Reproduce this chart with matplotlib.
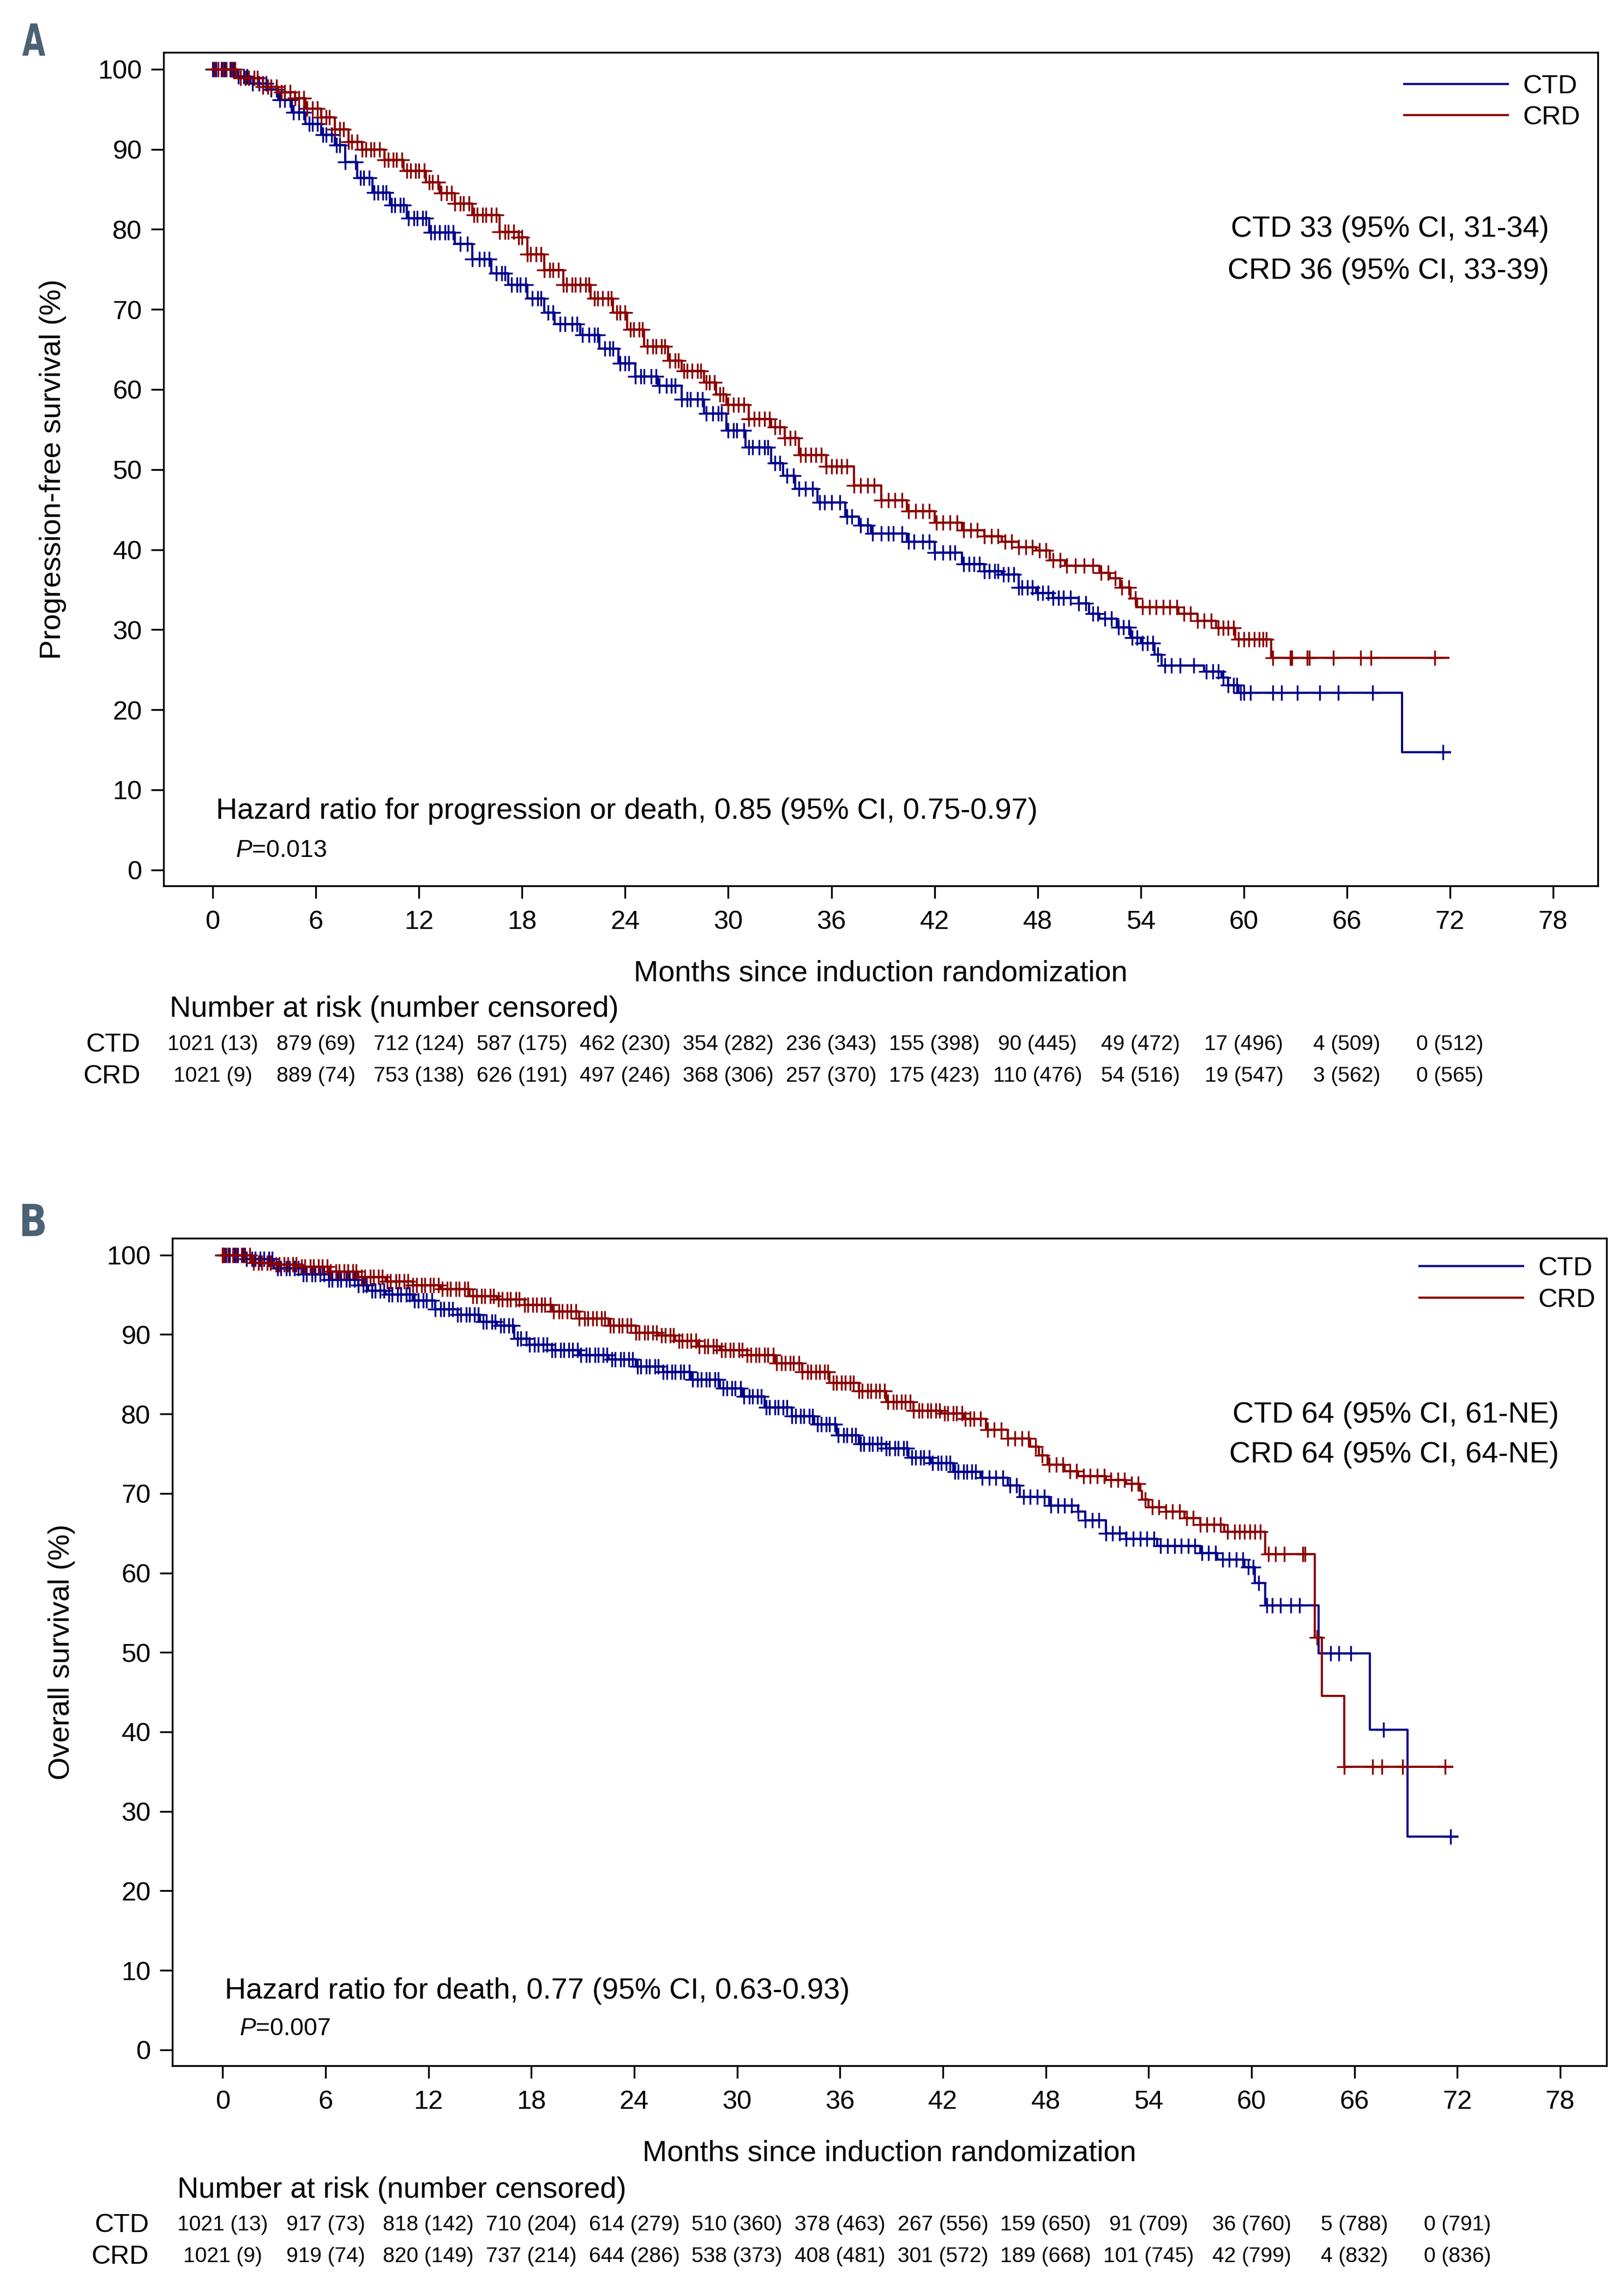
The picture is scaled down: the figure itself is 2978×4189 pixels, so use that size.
import numpy as np
import matplotlib
matplotlib.use("Agg")
import matplotlib.pyplot as plt
from matplotlib.font_manager import FontProperties
from matplotlib.textpath import TextPath
from matplotlib.patches import PathPatch
from matplotlib.transforms import Affine2D, blended_transform_factory

plt.rcParams['font.family'] = ['Liberation Sans', 'DejaVu Sans']
plt.rcParams['mathtext.fontset'] = 'custom'
plt.rcParams['mathtext.rm'] = 'Liberation Sans'
plt.rcParams['mathtext.it'] = 'Liberation Sans:italic'

BLUE = '#00008c'
RED = '#8b0000'
LETTER = '#4b6275'

# ---------------- data ----------------
risk_months = [0, 6, 12, 18, 24, 30, 36, 42, 48, 54, 60, 66, 72]

# Panel A - progression-free survival (step knots)
pfs_ctd_t = [0, 1.4, 2.2, 3.2, 3.8, 4.6, 5.4, 6.3, 7.1, 7.7, 8.4, 9.3, 10.3, 11.3, 12.6, 14.1,
             15.1, 16.2, 17.2, 18.3, 19.3, 19.9, 21.4, 22.5, 23.6, 24.6, 25.9, 27.3, 28.6, 29.9,
             31.0, 32.5, 33.2, 33.9, 35.2, 36.8, 37.6, 38.3, 40.4, 42.0, 43.6, 44.9, 45.9, 46.9,
             47.9, 48.9, 50.4, 51.0, 51.6, 52.6, 53.4, 54.0, 54.8, 55.2, 57.7, 58.7, 59.1, 59.7,
             69.2, 72.0]
pfs_ctd_s = [100, 99.1, 98.2, 97.5, 96.2, 94.6, 93.2, 91.8, 90.5, 88.4, 86.4, 84.6, 83.0, 81.4, 79.6, 78.2,
             76.3, 74.5, 73.1, 71.4, 69.6, 68.2, 66.8, 65.1, 63.3, 61.6, 60.5, 58.8, 57.0, 54.9,
             52.8, 50.8, 49.2, 47.6, 45.9, 44.1, 43.0, 42.0, 41.0, 39.6, 38.2, 37.3, 36.9, 35.3,
             34.6, 34.0, 33.3, 32.0, 31.4, 30.3, 29.0, 28.3, 26.9, 25.5, 24.8, 24.0, 23.1, 22.1,
             14.7, 14.7]
pfs_crd_t = [0, 1.4, 2.9, 3.8, 4.8, 5.4, 6.3, 7.1, 7.9, 8.7, 10.0, 11.1, 12.4, 13.2, 14.1, 15.1,
             16.7, 17.8, 18.3, 19.3, 20.4, 22.0, 23.3, 24.1, 25.1, 26.5, 27.3, 28.6, 29.3, 29.9,
             31.2, 32.5, 33.3, 34.1, 35.7, 37.3, 38.9, 40.4, 42.0, 43.6, 44.9, 45.9, 46.9, 47.9,
             48.7, 49.6, 51.6, 52.2, 52.8, 53.4, 53.8, 56.2, 57.3, 58.4, 59.5, 61.6, 71.9]
pfs_crd_s = [100, 98.9, 97.8, 97.1, 96.4, 95.1, 94.0, 92.5, 90.9, 90.0, 88.7, 87.3, 85.9, 84.5, 83.2, 81.8,
             79.7, 79.0, 76.9, 74.9, 73.1, 71.4, 69.6, 67.5, 65.4, 63.6, 62.3, 60.9, 59.4, 58.1,
             56.3, 55.3, 53.9, 51.8, 50.4, 48.0, 46.2, 44.8, 43.4, 42.4, 41.7, 41.0, 40.3, 39.9,
             38.7, 38.0, 37.1, 36.4, 35.3, 33.9, 32.8, 32.0, 31.1, 30.2, 28.8, 26.5, 26.5]
pfs_ctd_cens = [0.0, 0.2, 0.5, 0.7, 1.0, 1.2, 1.5, 1.8, 2.0, 2.3, 2.7, 2.9, 3.1, 3.4, 3.7, 3.9,
                4.2, 4.5, 4.7, 5.0, 5.3, 5.6, 5.8, 6.1, 6.4, 6.6, 6.9, 7.2, 7.4, 7.7, 8.3, 8.6,
                8.8, 9.1, 9.4, 9.6, 9.9, 10.1, 10.4, 10.6, 10.9, 11.1, 11.4, 11.7, 11.9, 12.2,
                12.4, 12.7, 12.9, 13.2, 13.5, 13.7, 14.0, 14.4, 14.8, 15.1, 15.5, 15.8, 16.1,
                16.5, 16.8, 17.0, 17.4, 17.7, 17.9, 18.2, 18.6, 18.9, 19.1, 19.5, 19.8, 20.2,
                20.5, 20.9, 21.2, 21.5, 21.9, 22.2, 22.4, 22.8, 23.1, 23.3, 23.7, 24.0, 24.2,
                24.6, 24.9, 25.1, 25.5, 25.8, 26.0, 26.4, 26.7, 26.9, 27.3, 27.6, 27.8, 28.2,
                28.5, 28.7, 29.1, 29.4, 29.6, 30.0, 30.3, 30.5, 30.9, 31.2, 31.4, 31.8, 32.1,
                32.3, 32.7, 33.0, 33.4, 33.8, 34.1, 34.5, 34.9, 35.3, 35.6, 36.0, 36.5, 36.9,
                37.2, 37.7, 38.1, 38.4, 38.9, 39.3, 39.6, 40.1, 40.5, 40.8, 41.3, 41.7, 42.0,
                42.5, 42.9, 43.2, 43.7, 44.0, 44.3, 44.6, 44.9, 45.2, 45.5, 45.7, 46.0, 46.3,
                46.6, 46.9, 47.1, 47.4, 47.7, 48.0, 48.3, 48.6, 48.9, 49.2, 49.5, 49.9, 50.4,
                50.8, 51.2, 51.5, 51.9, 52.3, 52.7, 53.0, 53.3, 53.5, 53.8, 54.1, 54.4, 54.7,
                55.0, 55.4, 55.8, 56.3, 57.1, 57.8, 58.2, 58.5, 58.8, 59.1, 59.4, 59.6, 59.8,
                60.0, 60.4, 61.7, 62.2, 63.1, 64.4, 65.5, 67.5, 71.6]
pfs_crd_cens = [0.1, 0.3, 0.6, 0.8, 1.1, 1.3, 1.6, 1.9, 2.1, 2.4, 2.6, 2.9, 3.2, 3.4, 3.7, 4.0,
                4.2, 4.5, 4.8, 5.0, 5.3, 5.5, 5.8, 6.1, 6.3, 6.6, 6.8, 7.1, 7.4, 7.6, 7.9, 8.1,
                8.4, 8.7, 8.9, 9.2, 9.4, 9.7, 10.0, 10.2, 10.5, 10.7, 11.0, 11.3, 11.5, 11.8,
                12.0, 12.3, 12.6, 12.8, 13.1, 13.3, 13.6, 13.9, 14.1, 14.4, 14.6, 14.9, 15.2,
                15.4, 15.7, 15.9, 16.2, 16.5, 16.7, 17.0, 17.2, 17.5, 17.8, 18.0, 18.3, 18.5,
                18.8, 19.1, 19.3, 19.6, 19.8, 20.1, 20.4, 20.6, 20.9, 21.1, 21.4, 21.7, 21.9,
                22.2, 22.4, 22.7, 23.0, 23.2, 23.5, 23.7, 24.0, 24.3, 24.5, 24.8, 25.0, 25.3,
                25.6, 25.8, 26.1, 26.3, 26.6, 26.9, 27.1, 27.4, 27.6, 27.9, 28.2, 28.4, 28.7,
                28.9, 29.2, 29.5, 29.7, 30.0, 30.3, 30.6, 30.9, 31.2, 31.5, 31.8, 32.1, 32.4,
                32.7, 33.0, 33.3, 33.6, 33.9, 34.2, 34.5, 34.8, 35.1, 35.4, 35.7, 36.0, 36.3,
                36.6, 36.9, 37.3, 37.7, 38.1, 38.5, 38.9, 39.3, 39.7, 40.1, 40.5, 40.9, 41.3,
                41.7, 42.1, 42.5, 42.9, 43.3, 43.7, 44.1, 44.5, 44.9, 45.3, 45.7, 46.1, 46.5,
                46.9, 47.3, 47.7, 48.1, 48.5, 48.9, 49.3, 49.7, 50.2, 50.7, 51.2, 51.7, 52.1,
                52.5, 52.9, 53.3, 53.7, 54.1, 54.5, 54.9, 55.3, 55.7, 56.1, 56.5, 56.9, 57.3,
                57.7, 58.1, 58.5, 58.8, 59.1, 59.4, 59.7, 60.0, 60.3, 60.6, 60.9, 61.1, 61.3,
                61.7, 62.7, 62.8, 63.7, 63.8, 65.2, 66.8, 67.4, 71.1]
pfs_ctd_risk = [1021, 879, 712, 587, 462, 354, 236, 155, 90, 49, 17, 4, 0]
pfs_ctd_ncens = [13, 69, 124, 175, 230, 282, 343, 398, 445, 472, 496, 509, 512]
pfs_crd_risk = [1021, 889, 753, 626, 497, 368, 257, 175, 110, 54, 19, 3, 0]
pfs_crd_ncens = [9, 74, 138, 191, 246, 306, 370, 423, 476, 516, 547, 562, 565]

# Panel B - overall survival
os_ctd_t = [0, 1.4, 3.0, 4.6, 6.2, 7.9, 8.5, 9.5, 11.1, 12.4, 13.7, 15.0, 16.0, 17.0, 17.9, 19.2,
            20.8, 22.5, 24.1, 25.7, 27.3, 29.0, 30.3, 31.6, 33.2, 34.5, 35.8, 37.1, 38.7, 40.0,
            41.3, 42.6, 44.2, 45.8, 46.5, 48.2, 49.9, 50.3, 51.5, 52.7, 54.5, 57.0, 58.0, 59.6,
            60.2, 60.8, 63.9, 66.9, 69.1, 72.0]
os_ctd_s = [100, 99.5, 98.3, 97.6, 96.9, 96.2, 95.5, 95.0, 94.3, 93.2, 92.5, 91.6, 91.1, 89.5, 88.7, 88.0,
            87.4, 86.9, 86.0, 85.3, 84.3, 83.2, 82.2, 80.8, 79.7, 78.7, 77.3, 76.2, 75.7, 74.5,
            73.8, 72.7, 72.0, 71.0, 69.6, 68.5, 67.7, 66.6, 65.0, 64.3, 63.4, 62.5, 61.7, 60.7,
            58.7, 55.9, 49.9, 40.3, 26.8, 26.8]
os_crd_t = [0, 1.7, 3.0, 4.6, 6.2, 7.9, 9.5, 11.1, 12.7, 14.4, 16.0, 17.6, 19.2, 20.8, 22.5, 24.1,
            25.4, 26.4, 27.7, 29.0, 30.6, 32.2, 33.8, 35.4, 37.1, 38.7, 40.3, 41.9, 43.2, 44.5,
            45.8, 47.1, 47.6, 48.1, 49.1, 49.9, 51.5, 52.7, 53.5, 53.6, 54.0, 55.0, 56.1, 57.0,
            58.4, 60.8, 63.7, 64.1, 65.4, 71.7]
os_crd_s = [100, 99.0, 98.8, 98.5, 97.9, 97.2, 96.7, 96.2, 95.7, 94.8, 94.4, 93.7, 92.9, 92.0, 91.1, 90.2,
            89.9, 89.2, 88.5, 88.0, 87.4, 86.4, 85.3, 83.9, 82.9, 81.5, 80.4, 80.1, 79.4, 78.0,
            76.9, 75.9, 74.8, 73.6, 72.8, 72.2, 71.7, 71.2, 70.3, 69.2, 68.3, 67.7, 66.9, 66.1,
            65.2, 62.4, 51.9, 44.5, 35.6, 35.6]
os_ctd_cens = [0.0, 0.2, 0.4, 0.7, 0.9, 1.2, 1.4, 1.7, 1.9, 2.2, 2.4, 2.7, 2.9, 3.2, 3.4, 3.7,
               3.9, 4.2, 4.4, 4.7, 4.9, 5.2, 5.4, 5.7, 5.9, 6.2, 6.4, 6.7, 6.9, 7.2, 7.4, 7.7,
               7.9, 8.2, 8.4, 8.7, 8.9, 9.2, 9.4, 9.7, 9.9, 10.2, 10.4, 10.7, 10.9, 11.2, 11.4,
               11.7, 11.9, 12.2, 12.4, 12.7, 12.9, 13.2, 13.4, 13.7, 13.9, 14.2, 14.4, 14.7,
               14.9, 15.2, 15.4, 15.7, 15.9, 16.2, 16.4, 16.7, 16.9, 17.2, 17.4, 17.7, 17.9,
               18.2, 18.4, 18.7, 18.9, 19.2, 19.4, 19.7, 19.9, 20.2, 20.4, 20.7, 20.9, 21.2,
               21.4, 21.7, 21.9, 22.2, 22.4, 22.7, 22.9, 23.2, 23.4, 23.7, 23.9, 24.2, 24.4,
               24.7, 24.9, 25.2, 25.4, 25.7, 25.9, 26.2, 26.4, 26.7, 26.9, 27.2, 27.4, 27.7,
               27.9, 28.2, 28.4, 28.7, 28.9, 29.2, 29.4, 29.7, 29.9, 30.2, 30.4, 30.7, 30.9,
               31.2, 31.4, 31.7, 31.9, 32.2, 32.4, 32.7, 32.9, 33.2, 33.4, 33.7, 33.9, 34.2,
               34.4, 34.7, 34.9, 35.2, 35.4, 35.7, 35.9, 36.2, 36.4, 36.7, 36.9, 37.2, 37.4,
               37.7, 37.9, 38.2, 38.4, 38.7, 38.9, 39.2, 39.4, 39.7, 39.9, 40.2, 40.4, 40.7,
               40.9, 41.2, 41.4, 41.7, 41.9, 42.2, 42.4, 42.7, 42.9, 43.2, 43.4, 43.7, 43.9,
               44.3, 44.7, 45.1, 45.5, 45.9, 46.3, 46.7, 47.1, 47.5, 47.9, 48.3, 48.7, 49.1,
               49.5, 49.9, 50.3, 50.7, 51.1, 51.5, 51.9, 52.3, 52.7, 53.1, 53.5, 53.9, 54.3,
               54.7, 55.1, 55.5, 55.9, 56.3, 56.7, 57.1, 57.5, 57.9, 58.3, 58.7, 59.1, 59.5,
               59.8, 60.1, 60.4, 60.9, 61.2, 61.7, 62.3, 62.8, 64.6, 65.1, 65.8, 67.7, 71.6]
os_crd_cens = [0.0, 0.1, 0.3, 0.6, 0.8, 1.1, 1.3, 1.6, 1.8, 2.1, 2.3, 2.6, 2.8, 3.1, 3.3, 3.6,
               3.8, 4.1, 4.3, 4.6, 4.8, 5.1, 5.3, 5.6, 5.8, 6.1, 6.3, 6.6, 6.8, 7.1, 7.3, 7.6,
               7.8, 8.1, 8.3, 8.6, 8.8, 9.1, 9.3, 9.6, 9.8, 10.1, 10.3, 10.6, 10.8, 11.1, 11.3,
               11.6, 11.8, 12.1, 12.3, 12.6, 12.8, 13.1, 13.3, 13.6, 13.8, 14.1, 14.3, 14.6,
               14.8, 15.1, 15.3, 15.6, 15.8, 16.1, 16.3, 16.6, 16.8, 17.1, 17.3, 17.6, 17.8,
               18.1, 18.3, 18.6, 18.8, 19.1, 19.3, 19.6, 19.8, 20.1, 20.3, 20.6, 20.8, 21.1,
               21.3, 21.6, 21.8, 22.1, 22.3, 22.6, 22.8, 23.1, 23.3, 23.6, 23.8, 24.1, 24.3,
               24.6, 24.8, 25.1, 25.3, 25.6, 25.8, 26.1, 26.3, 26.6, 26.8, 27.1, 27.3, 27.6,
               27.8, 28.1, 28.3, 28.6, 28.8, 29.1, 29.3, 29.6, 29.8, 30.1, 30.3, 30.6, 30.8,
               31.1, 31.3, 31.6, 31.8, 32.1, 32.3, 32.6, 32.8, 33.1, 33.3, 33.6, 33.8, 34.1,
               34.3, 34.6, 34.8, 35.1, 35.3, 35.6, 35.8, 36.1, 36.3, 36.6, 36.8, 37.1, 37.3,
               37.6, 37.8, 38.1, 38.3, 38.6, 38.8, 39.1, 39.3, 39.6, 39.8, 40.1, 40.3, 40.6,
               40.8, 41.1, 41.3, 41.6, 41.8, 42.1, 42.3, 42.6, 42.8, 43.1, 43.3, 43.6, 43.8,
               44.2, 44.6, 45.0, 45.4, 45.8, 46.2, 46.6, 47.0, 47.4, 47.8, 48.2, 48.6, 49.0,
               49.4, 49.8, 50.2, 50.6, 51.0, 51.4, 51.8, 52.2, 52.6, 53.0, 53.4, 53.8, 54.2,
               54.6, 55.0, 55.4, 55.8, 56.2, 56.6, 57.0, 57.4, 57.8, 58.2, 58.6, 59.0, 59.3,
               59.6, 59.9, 60.2, 60.5, 61.0, 61.4, 61.9, 63.0, 63.1, 63.8, 65.4, 67.05, 67.6,
               68.8, 71.3]
os_ctd_risk = [1021, 917, 818, 710, 614, 510, 378, 267, 159, 91, 36, 5, 0]
os_ctd_ncens = [13, 73, 142, 204, 279, 360, 463, 556, 650, 709, 760, 788, 791]
os_crd_risk = [1021, 919, 820, 737, 644, 538, 408, 301, 189, 101, 42, 4, 0]
os_crd_ncens = [9, 74, 149, 214, 286, 373, 481, 572, 668, 745, 799, 832, 836]

# ---------------- figure ----------------
W, H = 2978, 4189
fig = plt.figure(figsize=(W / 100, H / 100), dpi=100)
fig.patch.set_facecolor('white')


def px_box(left, top, right, bottom):
    return [left / W, 1 - bottom / H, (right - left) / W, (bottom - top) / H]


def censor_y(t, s, c):
    idx = np.searchsorted(t, c, side='right') - 1
    return np.asarray(s)[idx]


def panel_letter(ch, left, top, width, height):
    # condensed bold letter, drawn in pixel coordinates
    tp = TextPath((0, 0), ch, size=100, prop=FontProperties(family='DejaVu Sans', weight='bold'))
    bb = tp.get_extents()
    tr = (Affine2D().translate(-bb.x0, -bb.y0)
          .scale(width / bb.width, height / bb.height)
          .translate(left, H - top - height))
    fig.add_artist(PathPatch(tp, transform=tr, facecolor=LETTER, edgecolor='none'))


def draw_panel(ax, ctd, crd, xlim, ylabel, hr, ptxt, medians, risk, rows_y, lab_x, num_x,
               leg_anchor, med_x, med_y, hr_xy, p_xy, xlab_y):
    ax.set_xlim(*xlim)
    ax.set_ylim(-2.0, 102.1)
    lines = []
    for (t, s, cens), col, lab in zip([ctd, crd], [BLUE, RED], ['CTD', 'CRD']):
        ln, = ax.step(t, s, where='post', color=col, lw=2.8, label=lab)
        lines.append(ln)
        ax.plot(cens, censor_y(np.array(t), s, np.array(cens)), ls='none', marker='+',
                ms=20, mew=2.4, color=col)

    ax.set_xticks(risk_months + [78])
    ax.set_yticks(range(0, 101, 10))
    ax.tick_params(direction='out', length=16.5, width=2.4, labelsize=35)
    ax.tick_params(axis='x', pad=15)
    ax.tick_params(axis='y', pad=12)
    for sp in ax.spines.values():
        sp.set_linewidth(2.4)

    ax.text(-0.0772, 0.5, ylabel, transform=ax.transAxes, rotation=90,
            ha='center', va='center', fontsize=39)
    ax.text(0.5, xlab_y, 'Months since induction randomization', transform=ax.transAxes,
            ha='center', va='center', fontsize=39)

    ax.legend(handles=lines, loc='upper left', bbox_to_anchor=leg_anchor, frameon=False,
              fontsize=35, handlelength=3.9, handletextpad=0.58, labelspacing=0.25,
              borderpad=0, borderaxespad=0)

    for txt, y in zip(medians, med_y):
        ax.text(med_x, y, txt, transform=ax.transAxes, ha='right', va='center', fontsize=39)
    ax.text(hr_xy[0], hr_xy[1], hr, transform=ax.transAxes, ha='left', va='center', fontsize=39)
    ax.text(p_xy[0], p_xy[1], ptxt, transform=ax.transAxes, ha='left', va='center', fontsize=32)

    # number at risk table
    tr = blended_transform_factory(ax.transData, fig.transFigure)
    fig.text(num_x, rows_y[0], 'Number at risk (number censored)', ha='left', va='center',
             fontsize=39)
    for (lab, n, c), y in zip(risk, rows_y[1:]):
        fig.text(lab_x, y, lab, ha='right', va='center', fontsize=35)
        for m, ni, ci in zip(risk_months, n, c):
            ax.text(m, y, f'{ni} ({ci})', transform=tr, ha='center', va='center',
                    fontsize=28, clip_on=False)


# Panel A
axA = fig.add_axes(px_box(300, 96, 2930, 1624))
draw_panel(axA, (pfs_ctd_t, pfs_ctd_s, pfs_ctd_cens), (pfs_crd_t, pfs_crd_s, pfs_crd_cens),
           (-2.86, 80.6), 'Progression-free survival (%)',
           'Hazard ratio for progression or death, 0.85 (95% CI, 0.75-0.97)', r'$P$=0.013',
           ['CTD 33 (95% CI, 31-34)', 'CRD 36 (95% CI, 33-39)'],
           [('CTD', pfs_ctd_risk, pfs_ctd_ncens), ('CRD', pfs_crd_risk, pfs_crd_ncens)],
           [1 - 1850 / H, 1 - 1915 / H, 1 - 1973 / H], 258 / W, 311 / W,
           (0.865, 0.974), 0.966, (0.788, 0.7376), (0.0365, 0.0897), (0.050, 0.0419), -0.105)

# Panel B
axB = fig.add_axes(px_box(316, 2270, 2946, 3787))
draw_panel(axB, (os_ctd_t, os_ctd_s, os_ctd_cens), (os_crd_t, os_crd_s, os_crd_cens),
           (-2.93, 80.7), 'Overall survival (%)',
           'Hazard ratio for death, 0.77 (95% CI, 0.63-0.93)', r'$P$=0.007',
           ['CTD 64 (95% CI, 61-NE)', 'CRD 64 (95% CI, 64-NE)'],
           [('CTD', os_ctd_risk, os_ctd_ncens), ('CRD', os_crd_risk, os_crd_ncens)],
           [1 - 4015 / H, 1 - 4079 / H, 1 - 4137 / H], 273 / W, 325 / W,
           (0.8696, 0.978), 0.9666, (0.7864, 0.7383), (0.0365, 0.0903), (0.0468, 0.0442), -0.106)

# panel letters
panel_letter('A', 41, 43, 42, 59)
panel_letter('B', 41, 2207, 41, 59)

fig.savefig('out.png', dpi=100, facecolor='white')
